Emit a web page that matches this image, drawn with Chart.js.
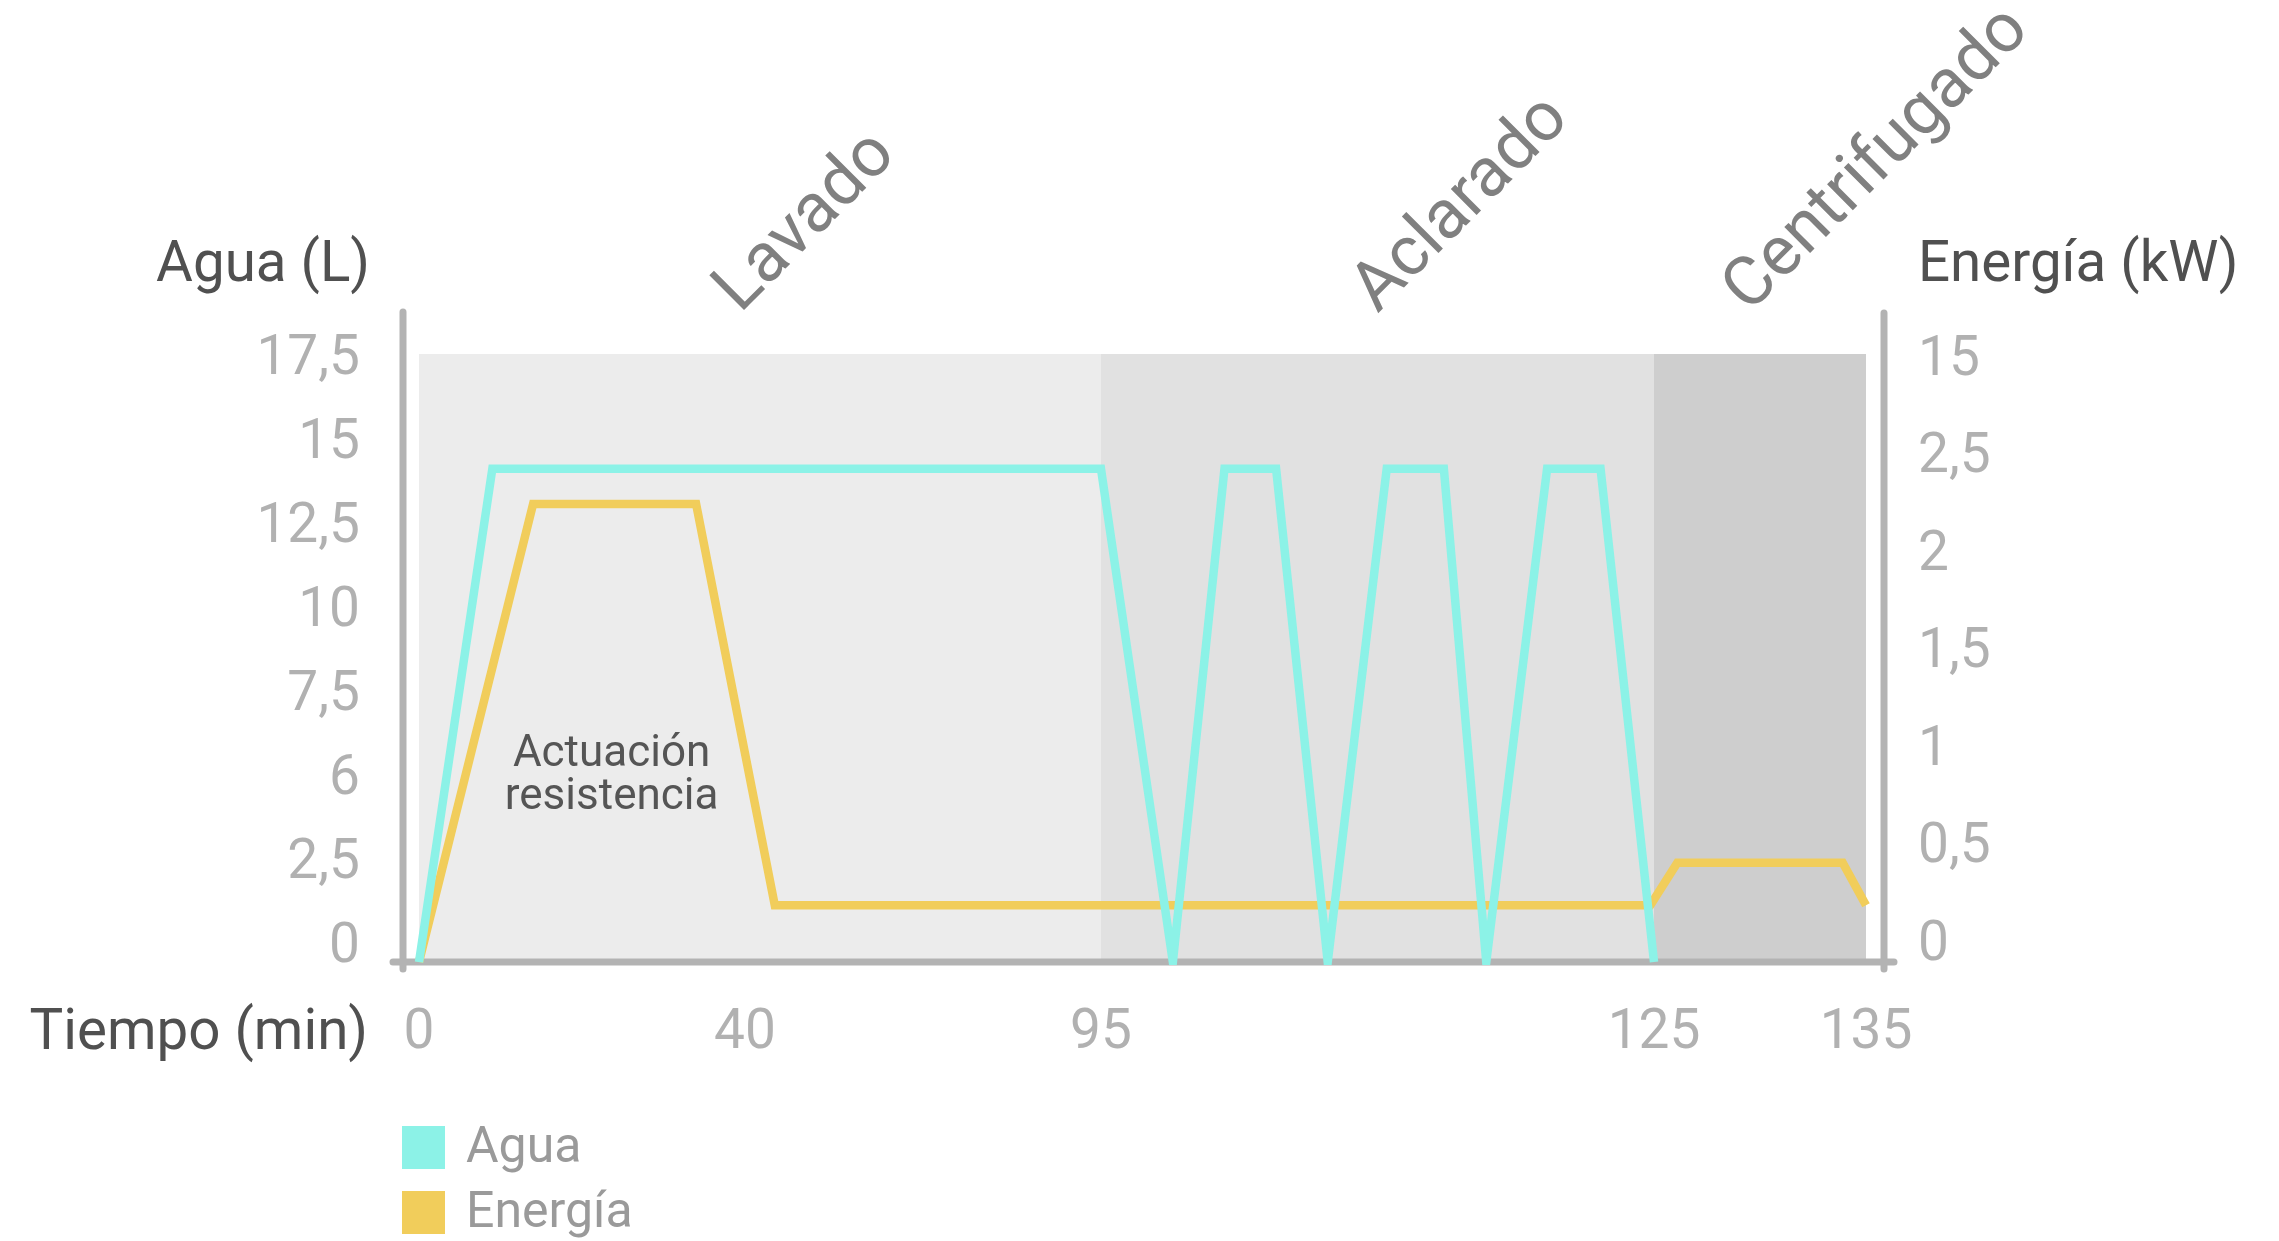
<!DOCTYPE html>
<html>
<head>
<meta charset="utf-8">
<script src="https://cdn.jsdelivr.net/npm/chart.js@4.4.1/dist/chart.umd.min.js"></script>
<style>
  html, body { margin: 0; padding: 0; background: #fff; }
  #wrap { width: 2279px; height: 1241px; }
</style>
</head>
<body>
<div id="wrap"><canvas id="cycleChart" width="2279" height="1241"></canvas></div>
<script>
// ===========================
// DATA
// ===========================
const timeTicks = [0, 40, 95, 125, 135];
const waterTicks = [0, 2.5, 5, 7.5, 10, 12.5, 15, 17.5];
const waterTickLabels = ['0', '2,5', '6', '7,5', '10', '12,5', '15', '17,5'];
const energyTicks = [0, 0.5, 1, 1.5, 2, 2.5, 3];
const energyTickLabels = ['0', '0,5', '1', '1,5', '2', '2,5', '15'];

const waterTime = [0, 9, 95, 98.9, 101.7, 104.5, 107.3, 110.5, 113.6, 115.9, 119.2, 122.1, 125];
const waterLitres = [0, 14.2, 14.2, 0, 14.2, 14.2, 0, 14.2, 14.2, 0, 14.2, 14.2, 0];

const energyTime = [0, 14, 34, 44.6, 124.8, 126.1, 133.9, 135];
const energyKw = [0, 2.26, 2.26, 0.28, 0.28, 0.49, 0.49, 0.28];

const phaseNames = ['Lavado', 'Aclarado', 'Centrifugado'];
const phaseStart = [0, 95, 125];
const phaseEnd = [95, 125, 135];

const noteLines = ['Actuación', 'resistencia'];

// ===========================
// STYLE
// ===========================
const FONT = 'Roboto';
const WATER_COLOR = '#8cf2e7';
const ENERGY_COLOR = '#f1cd5b';
const PHASE_COLORS = ['#ececec', '#e1e1e1', '#cecece'];
const PHASE_LABEL_SHIFT = [-20, 0, -11];
const AXIS_COLOR = '#b3b3b3';
const TICK_COLOR = '#b1b1b1';
const TITLE_COLOR = '#505050';

Chart.defaults.font.family = FONT;

// ===========================
// PIECEWISE TIME AXIS
// the time axis of the picture is not linear: each interval
// between the labelled minutes gets its own share of the width
// ===========================
const TIME_AXIS_FRACTIONS = [0, 0.2253, 0.4713, 0.8535, 1];

class PiecewiseScale extends Chart.LinearScale {
  getPixelForValue(value) {
    const b = timeTicks, f = TIME_AXIS_FRACTIONS;
    let t = value <= b[0] ? f[0] : f[f.length - 1];
    for (let i = 1; i < b.length; i++) {
      if (value >= b[i - 1] && value <= b[i]) {
        t = f[i - 1] + (value - b[i - 1]) / (b[i] - b[i - 1]) * (f[i] - f[i - 1]);
        break;
      }
    }
    return this.getPixelForDecimal(t);
  }
  getValueForPixel(pixel) {
    const b = timeTicks, f = TIME_AXIS_FRACTIONS;
    const t = this.getDecimalForPixel(pixel);
    for (let i = 1; i < f.length; i++) {
      if (t <= f[i]) return b[i - 1] + (t - f[i - 1]) / (f[i] - f[i - 1]) * (b[i] - b[i - 1]);
    }
    return b[b.length - 1];
  }
}
PiecewiseScale.id = 'piecewise';
PiecewiseScale.defaults = Chart.LinearScale.defaults;
Chart.register(PiecewiseScale);

// ===========================
// DECORATION PLUGIN
// ===========================
const cycleDecor = {
  id: 'cycleDecor',
  beforeDatasetsDraw(chart) {
    const { ctx, chartArea: a, scales: { x } } = chart;
    ctx.save();
    // phase bands
    phaseNames.forEach((name, i) => {
      const x0 = x.getPixelForValue(phaseStart[i]);
      const x1 = x.getPixelForValue(phaseEnd[i]);
      ctx.fillStyle = PHASE_COLORS[i];
      ctx.fillRect(x0, a.top, x1 - x0, a.bottom - a.top);
    });
    // axis lines
    ctx.strokeStyle = AXIS_COLOR;
    ctx.lineWidth = 7;
    ctx.lineCap = 'round';
    ctx.beginPath();
    ctx.moveTo(a.left - 16, a.top - 42);
    ctx.lineTo(a.left - 16, a.bottom + 7);
    ctx.moveTo(a.right + 18, a.top - 41);
    ctx.lineTo(a.right + 18, a.bottom + 7);
    ctx.moveTo(a.left - 26, a.bottom);
    ctx.lineTo(a.right + 28, a.bottom);
    ctx.stroke();
    ctx.restore();
  },
  afterDraw(chart) {
    const { ctx, chartArea: a, scales: { x } } = chart;
    ctx.save();

    // phase labels, rotated
    ctx.fillStyle = '#808080';
    ctx.font = `69px ${FONT}`;
    ctx.textAlign = 'left';
    ctx.textBaseline = 'alphabetic';
    phaseNames.forEach((name, i) => {
      const cx = (x.getPixelForValue(phaseStart[i]) + x.getPixelForValue(phaseEnd[i])) / 2;
      ctx.save();
      ctx.translate(cx + PHASE_LABEL_SHIFT[i], a.top - 40);
      ctx.rotate(-Math.PI / 4);
      ctx.fillText(name, 0, 0);
      ctx.restore();
    });

    // axis titles
    ctx.fillStyle = TITLE_COLOR;
    ctx.font = `56.5px ${FONT}`;
    ctx.textAlign = 'right';
    ctx.fillText('Agua (L)', a.left - 49, a.top - 73);
    ctx.fillText('Tiempo (min)', a.left - 51, a.bottom + 87);
    ctx.textAlign = 'left';
    ctx.fillText('Energía (kW)', a.right + 52, a.top - 73);

    // note on the heating plateau
    ctx.fillStyle = '#555555';
    ctx.font = `44px ${FONT}`;
    ctx.textAlign = 'center';
    const noteX = x.getPixelForValue((energyTime[1] + energyTime[2]) / 2);
    noteLines.forEach((line, i) => {
      ctx.fillText(line, noteX - 3, a.bottom - 196 + i * 43);
    });

    // legend
    ctx.font = `50px ${FONT}`;
    ctx.textAlign = 'left';
    ctx.textBaseline = 'middle';
    chart.data.datasets.forEach((ds, i) => {
      const top = a.bottom + 164 + i * 65;
      ctx.fillStyle = ds.borderColor;
      ctx.fillRect(a.left - 17, top, 43, 43);
      ctx.fillStyle = '#9a9a9a';
      ctx.fillText(ds.label, a.left + 47, top + 23);
    });

    ctx.restore();
  }
};

// ===========================
// CHART
// ===========================
const tickFont = { size: 55, family: FONT };
const lineClip = { left: 10, right: 10, top: 10, bottom: 3 };

new Chart(document.getElementById('cycleChart'), {
  type: 'line',
  data: {
    datasets: [{
      label: 'Agua',
      data: waterTime.map((t, i) => ({ x: t, y: waterLitres[i] })),
      yAxisID: 'yWater',
      borderColor: WATER_COLOR,
      borderWidth: 8.5,
      pointRadius: 0,
      tension: 0,
      borderJoinStyle: 'miter',
      clip: lineClip
    }, {
      label: 'Energía',
      data: energyTime.map((t, i) => ({ x: t, y: energyKw[i] })),
      yAxisID: 'yEnergy',
      borderColor: ENERGY_COLOR,
      borderWidth: 8.5,
      pointRadius: 0,
      tension: 0,
      borderJoinStyle: 'miter',
      clip: lineClip
    }]
  },
  options: {
    responsive: false,
    devicePixelRatio: 1,
    animation: false,
    events: [],
    layout: { padding: { top: 354, left: 0, right: 0, bottom: 0 } },
    plugins: { legend: { display: false }, tooltip: { enabled: false } },
    scales: {
      x: {
        type: 'piecewise',
        min: timeTicks[0],
        max: timeTicks[timeTicks.length - 1],
        afterBuildTicks: axis => { axis.ticks = timeTicks.map(v => ({ value: v })); },
        afterFit: axis => { axis.height = 279; },
        grid: { display: false, drawTicks: false },
        border: { display: false },
        ticks: { color: TICK_COLOR, font: tickFont, padding: 39, maxRotation: 0, autoSkip: false,
                 callback: v => String(v) }
      },
      // data axes
      yWater: { type: 'linear', position: 'left', display: false, min: 0, max: 17.5 },
      yEnergy: { type: 'linear', position: 'right', display: false, min: 0, max: 3 },
      // label axes, placed as the picture sets its tick texts
      yWaterLabels: {
        type: 'linear', position: 'left', min: -0.417, max: 17.679,
        afterBuildTicks: axis => { axis.ticks = waterTicks.map(v => ({ value: v })); },
        afterFit: axis => { axis.width = 419; },
        grid: { display: false, drawTicks: false },
        border: { display: false },
        ticks: { color: TICK_COLOR, font: tickFont, padding: 59,
                 callback: (v, i) => waterTickLabels[i] }
      },
      yEnergyLabels: {
        type: 'linear', position: 'right', min: -0.082, max: 3.036,
        afterBuildTicks: axis => { axis.ticks = energyTicks.map(v => ({ value: v })); },
        afterFit: axis => { axis.width = 413; },
        grid: { display: false, drawTicks: false },
        border: { display: false },
        ticks: { color: TICK_COLOR, font: tickFont, padding: 52,
                 callback: (v, i) => energyTickLabels[i] }
      }
    }
  },
  plugins: [cycleDecor]
});
</script>
</body>
</html>
